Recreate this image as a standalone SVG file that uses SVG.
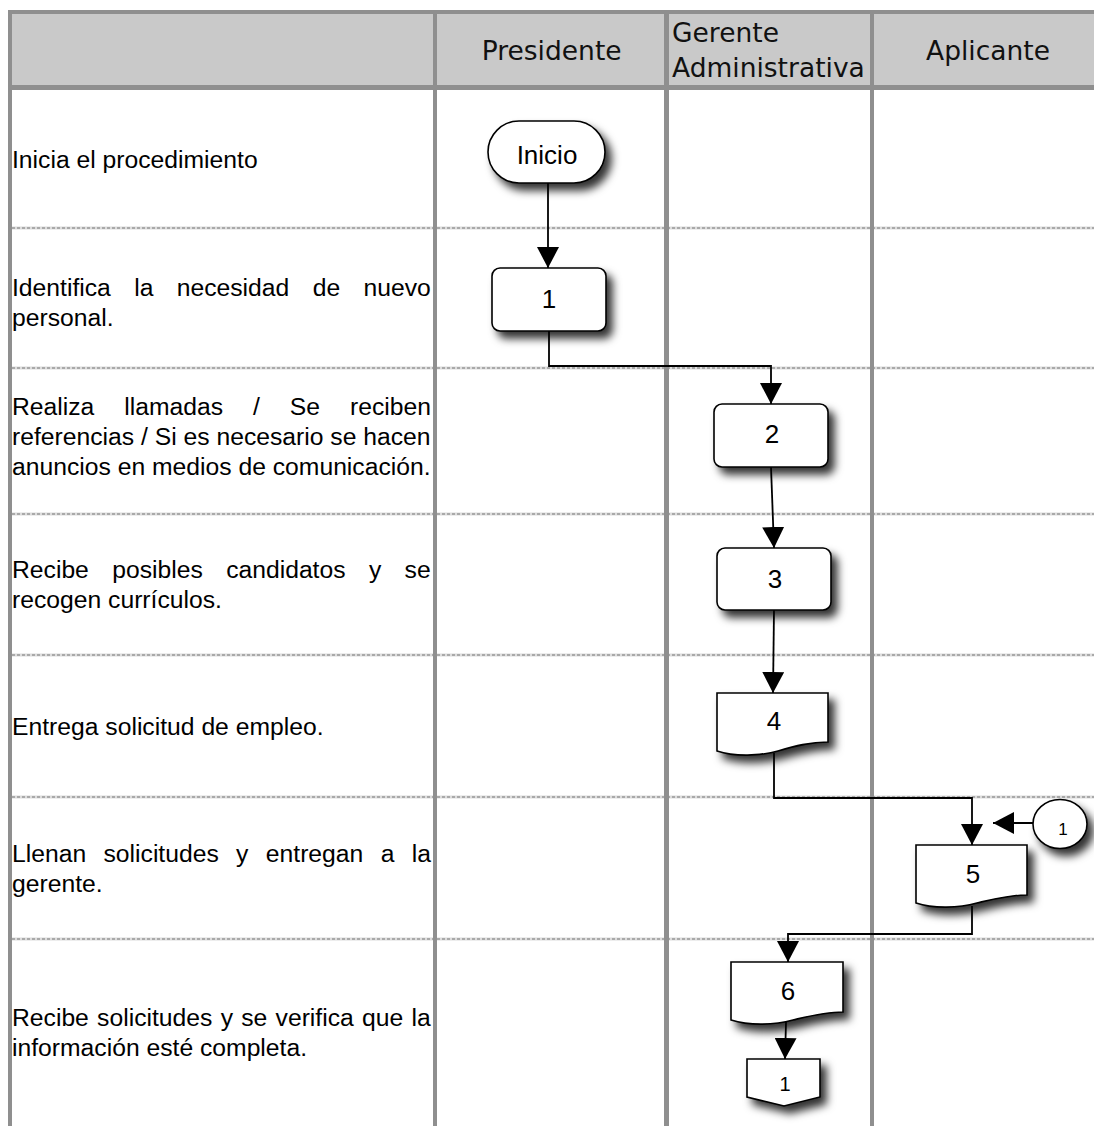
<svg xmlns="http://www.w3.org/2000/svg" width="1094" height="1126" viewBox="0 0 1094 1126">
  <style>
    .desc { font-family: "Liberation Sans", Arial, sans-serif; font-size: 24.7px; fill: #000; }
    .head { font-family: "DejaVu Sans", Verdana, sans-serif; font-size: 26.5px; fill: #111; }
    .lbl { font-family: "Liberation Sans", Arial, sans-serif; font-size: 26px; fill: #000; text-anchor: middle; }
    .lbl-s { font-family: "Liberation Sans", Arial, sans-serif; font-size: 17px; fill: #000; text-anchor: middle; }
    .shape { fill: #fff; stroke: #000; stroke-width: 1.6; filter: url(#shadow); }
    .grid { stroke: #8f8f8f; fill: none; }
    .sep-base { stroke: #dcdcdc; stroke-width: 3; }
    .sep-dash { stroke: #a9a9a9; stroke-width: 2; stroke-dasharray: 3 2; }
    .conn { fill: none; stroke: #000; stroke-width: 1.8; marker-end: url(#arrow); }
  </style>
  <defs>
    <filter id="shadow" x="-20%" y="-20%" width="160%" height="170%">
      <feDropShadow dx="6" dy="7" stdDeviation="4" flood-color="#000" flood-opacity="0.8"/>
    </filter>
    <marker id="arrow" markerUnits="userSpaceOnUse" markerWidth="21" markerHeight="22" refX="21" refY="11" orient="auto">
      <path d="M0,0 L21,11 L0,22 Z" fill="#000"/>
    </marker>
  </defs>

  <rect x="0" y="0" width="1094" height="1126" fill="#fff"/>

  <!-- header band -->
  <rect x="12" y="14" width="1082" height="72" fill="#c9c9c9"/>

  <!-- dotted row separators -->
  <g id="row-separators">
    <line class="sep-base" x1="12" y1="228" x2="1094" y2="228"/>
    <line class="sep-dash" x1="12" y1="228" x2="1094" y2="228"/>
    <line class="sep-base" x1="12" y1="368" x2="1094" y2="368"/>
    <line class="sep-dash" x1="12" y1="368" x2="1094" y2="368"/>
    <line class="sep-base" x1="12" y1="514" x2="1094" y2="514"/>
    <line class="sep-dash" x1="12" y1="514" x2="1094" y2="514"/>
    <line class="sep-base" x1="12" y1="655" x2="1094" y2="655"/>
    <line class="sep-dash" x1="12" y1="655" x2="1094" y2="655"/>
    <line class="sep-base" x1="12" y1="797" x2="1094" y2="797"/>
    <line class="sep-dash" x1="12" y1="797" x2="1094" y2="797"/>
    <line class="sep-base" x1="12" y1="939" x2="1094" y2="939"/>
    <line class="sep-dash" x1="12" y1="939" x2="1094" y2="939"/>
  </g>

  <!-- table frame and lane dividers -->
  <g id="frame" class="grid">
    <line x1="8" y1="12" x2="1094" y2="12" stroke-width="4"/>
    <line x1="8" y1="87.5" x2="1094" y2="87.5" stroke-width="5"/>
    <line x1="10" y1="10" x2="10" y2="1126" stroke-width="4"/>
    <line x1="435" y1="10" x2="435" y2="1126" stroke-width="4"/>
    <line x1="666.5" y1="10" x2="666.5" y2="1126" stroke-width="5"/>
    <line x1="872" y1="10" x2="872" y2="1126" stroke-width="4"/>
  </g>

  <!-- lane titles -->
  <g id="lane-titles">
    <text class="head" x="481.7" y="60">Presidente</text>
    <text class="head" x="672" y="42">Gerente</text>
    <text class="head" x="672" y="77">Administrativa</text>
    <text class="head" x="926" y="59.5">Aplicante</text>
  </g>

  <!-- step descriptions -->
  <g id="descriptions">
    <text class="desc" x="12" y="167.5">Inicia el procedimiento</text>
    <text class="desc" x="12" y="296" word-spacing="16.5">Identifica la necesidad de nuevo</text>
    <text class="desc" x="12" y="326">personal.</text>
    <text class="desc" x="12" y="415" word-spacing="23.1">Realiza llamadas / Se reciben</text>
    <text class="desc" x="12" y="445">referencias / Si es necesario se hacen</text>
    <text class="desc" x="12" y="475">anuncios en medios de comunicación.</text>
    <text class="desc" x="12" y="578" word-spacing="16.5">Recibe posibles candidatos y se</text>
    <text class="desc" x="12" y="608">recogen currículos.</text>
    <text class="desc" x="12" y="734.5">Entrega solicitud de empleo.</text>
    <text class="desc" x="12" y="861.5" word-spacing="10.5">Llenan solicitudes y entregan a la</text>
    <text class="desc" x="12" y="891.5">gerente.</text>
    <text class="desc" x="12" y="1026" word-spacing="1.4">Recibe solicitudes y se verifica que la</text>
    <text class="desc" x="12" y="1056">información esté completa.</text>
  </g>

  <!-- connectors -->
  <g id="connectors">
    <polyline class="conn" points="548,183 548,268"/>
    <polyline class="conn" points="549,331 549,366 771,366 771,404"/>
    <polyline class="conn" points="771,467 774,548"/>
    <polyline class="conn" points="774,610 773,693"/>
    <polyline class="conn" points="774,753 774,798 972,798 972,845"/>
    <polyline class="conn" points="1033,823 993,823"/>
    <polyline class="conn" points="972,906 972,934 788,934 788,962"/>
    <polyline class="conn" points="786,1022 785,1059"/>
  </g>

  <!-- flow nodes -->
  <g id="node-inicio">
    <rect class="shape" x="488" y="121" width="117" height="62" rx="31" ry="31"/>
    <text class="lbl" x="547" y="164">Inicio</text>
  </g>
  <g id="node-1">
    <rect class="shape" x="492" y="268" width="114" height="63" rx="8" ry="8"/>
    <text class="lbl" x="549" y="308">1</text>
  </g>
  <g id="node-2">
    <rect class="shape" x="714" y="404" width="114" height="63" rx="8" ry="8"/>
    <text class="lbl" x="772" y="443">2</text>
  </g>
  <g id="node-3">
    <rect class="shape" x="717" y="548" width="114" height="62" rx="8" ry="8"/>
    <text class="lbl" x="775" y="588">3</text>
  </g>
  <g id="node-4">
    <path class="shape" d="M717,693 H828 V742 C810,742 795,746 778,751 C760,756 735,757 717,751 Z"/>
    <text class="lbl" x="774" y="730">4</text>
  </g>
  <g id="node-5">
    <path class="shape" d="M916,845 H1027 V895 C1009,895 994,899 977,903 C959,908 934,909 916,903 Z"/>
    <text class="lbl" x="973" y="883">5</text>
  </g>
  <g id="node-connector-in">
    <ellipse class="shape" cx="1060" cy="824" rx="27" ry="24.5"/>
    <text class="lbl-s" x="1063" y="835">1</text>
  </g>
  <g id="node-6">
    <path class="shape" d="M731,962 H843 V1012 C825,1012 810,1016 793,1020 C775,1025 750,1026 731,1020 Z"/>
    <text class="lbl" x="788" y="1000">6</text>
  </g>
  <g id="node-offpage-1">
    <path class="shape" d="M747,1059 H820 V1097 L784,1106 L747,1097 Z"/>
    <text class="lbl-s" x="785" y="1091" style="font-size:20px">1</text>
  </g>
</svg>
